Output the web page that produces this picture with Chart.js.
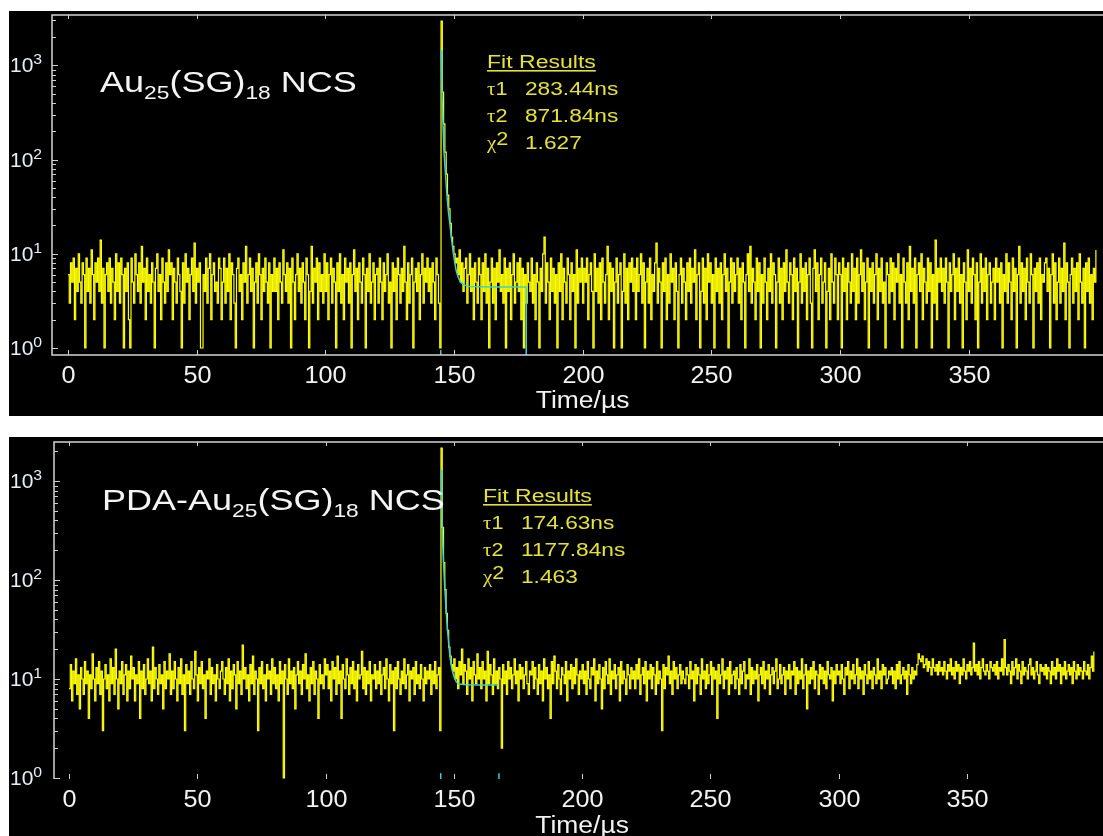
<!DOCTYPE html>
<html>
<head>
<meta charset="utf-8">
<script src="https://cdn.jsdelivr.net/npm/chart.js@4.4.1/dist/chart.umd.min.js"></script>
<style>
  body { margin: 0; background: #fff; }
  .panel { position: absolute; left: 9px; width: 1094px; background: #000; }
  #p1 { top: 11px; height: 405px; }
  #p2 { top: 437px; height: 399px; }
</style>
</head>
<body>
<div class="panel" id="p1"><canvas id="c1"></canvas></div>
<div class="panel" id="p2"><canvas id="c2"></canvas></div>
<script>
// channel width in us, counts start at t = 0
const binWidth = 0.5;
const xTicks = [0, 50, 100, 150, 200, 250, 300, 350];
const yExponents = [0, 1, 2, 3];

// Au25(SG)18 NCS decay, photon counts per channel
const countsTop = [
  6,3,8,5,9,2,7,4,10,5, 3,8,6,1,9,4,7,3,11,6, 2,8,5,9,4,14,3,7,1,6, 8,4,9,3,7,5,2,10,4,8,
  3,9,6,1,7,4,8,2,1,9, 5,3,10,6,4,8,3,12,5,7, 2,9,4,6,3,8,5,1,7,10, 4,6,2,9,5,3,8,4,11,6,
  8,2,7,5,3,9,6,4,1,8, 3,10,5,7,2,6,9,4,13,3, 7,5,8,1,1,6,4,9,3,7, 10,2,6,8,4,5,3,9,7,2,
  5,9,3,7,4,10,2,8,6,3, 1,7,9,4,6,2,8,5,12,3, 6,9,4,7,1,5,8,3,10,6, 2,7,4,9,5,3,8,1,6,4,
  9,4,7,2,8,5,3,11,6,4, 8,3,7,1,9,5,2,6,10,4, 7,3,8,5,2,9,6,1,4,12, 3,7,5,9,2,8,4,6,3,10,
  4,8,2,6,9,3,7,5,1,8, 4,10,3,6,2,9,5,7,3,8, 1,6,11,4,7,2,8,5,3,9, 6,1,7,4,10,3,5,8,2,6,
  7,3,9,5,2,8,4,6,10,3, 5,1,8,4,7,2,9,6,3,7, 4,12,5,2,8,3,6,9,1,5, 7,4,8,2,6,10,3,7,5,9,
  4,7,3,8,5,2,9,6,3,1, 2950,520,240,120,70,42,30,21,15,12, 10,8,9,6,11,5,8,4,7,9, 3,6,10,4,7,2,8,5,3,9,
  6,2,8,4,10,3,7,1,5,9, 3,7,2,8,5,11,4,6,3,9, 1,7,4,8,2,6,10,3,5,8, 4,9,2,7,1,6,3,8,5,4,
  9,3,6,2,8,5,1,7,4,10, 15,3,8,5,2,9,4,7,3,6, 1,8,4,10,2,7,5,3,9,6, 2,8,4,6,1,11,3,7,5,9,
  3,7,5,9,2,6,8,4,1,10, 4,7,3,8,2,9,5,3,6,12, 2,8,4,7,1,5,9,3,6,8, 1,4,10,3,7,2,8,5,9,4,
  7,2,9,4,6,10,3,8,1,5, 7,3,9,2,6,4,8,13,3,7, 5,1,8,4,9,2,6,3,10,5, 7,2,8,4,1,6,9,3,7,5,
  2,8,4,9,3,7,5,11,2,6, 8,1,4,9,3,7,2,10,5,8, 3,6,1,9,4,7,3,8,2,6, 10,4,7,1,5,9,3,8,4,6,
  9,3,7,2,8,5,1,6,10,4, 12,3,7,5,2,9,4,8,1,6, 3,9,5,2,7,4,10,3,8,6, 1,5,9,3,7,2,8,4,11,5,
  3,8,6,2,9,4,7,1,5,10, 3,7,4,8,2,6,9,3,1,7, 11,4,8,2,6,9,3,5,8,1, 4,7,2,10,5,3,9,6,2,8,
  6,1,9,4,7,2,8,5,3,10, 4,7,2,9,3,6,11,4,8,2, 5,9,1,7,4,8,3,6,10,2, 7,4,9,3,5,1,8,6,3,9,
  4,8,2,7,5,10,3,6,1,9, 5,3,8,2,12,4,7,3,9,1, 6,8,4,10,2,7,5,3,9,4, 8,1,6,3,14,2,7,5,9,4,
  7,3,9,5,1,8,4,6,10,2, 7,4,9,3,6,1,8,5,2,11, 4,7,3,9,6,2,8,1,5,10, 3,7,4,9,2,6,8,3,5,7,
  2,9,5,7,3,8,1,6,4,10, 3,8,5,2,9,4,7,1,6,12, 3,8,4,7,2,9,5,3,10,6, 1,7,4,8,3,9,2,6,5,8,
  9,4,7,1,6,10,3,8,2,5, 9,3,7,4,13,2,8,5,1,6, 9,3,7,4,8,2,10,5,3,7, 1,8,4,9,3,6,2,7,5,11
];

// PDA-Au25(SG)18 NCS decay
const countsBottom = [
  8,14,6,12,9,16,7,11,5,13, 10,7,15,9,12,4,11,8,18,10, 6,13,9,15,7,12,3,10,14,8, 11,6,16,9,13,7,20,10,5,12,
  9,15,7,11,14,6,12,8,17,10, 13,6,11,9,15,4,12,8,14,7, 10,16,9,12,6,21,8,13,10,7, 14,9,11,5,15,8,12,10,18,7,
  12,8,15,10,6,13,9,16,7,11, 3,14,9,12,7,15,10,8,19,11, 6,13,9,15,8,11,4,12,10,16, 7,13,9,11,6,14,10,8,12,15,
  10,7,13,9,16,6,12,8,14,11, 5,15,9,12,7,22,10,13,8,11, 6,14,9,17,7,12,10,3,13,9, 15,8,11,6,14,10,12,7,16,9,
  13,8,11,6,15,9,12,1,14,10, 7,16,9,12,8,13,5,11,15,9, 12,7,14,10,18,8,11,6,13,9, 15,7,12,10,4,14,9,11,8,16,
  11,14,8,12,6,15,10,13,7,17, 9,12,4,14,10,8,16,11,7,13, 9,15,8,12,6,14,10,11,19,8, 13,7,12,9,15,6,11,10,14,8,
  12,9,15,7,11,13,8,16,10,6, 14,9,12,3,13,8,15,10,7,12, 9,16,8,11,14,6,12,10,13,7, 15,9,11,8,14,10,6,13,9,12,
  10,14,7,12,9,15,8,11,13,3, 2150,340,150,80,46,31,21,17,14,12, 16,10,13,8,15,11,20,9,14,12, 7,16,10,13,6,15,11,9,18,10,
  13,8,15,10,12,6,19,9,14,11, 7,16,9,12,8,13,10,2,14,9, 12,7,15,10,13,8,11,16,9,12, 6,14,10,13,8,11,15,9,7,12,
  11,15,8,13,10,7,14,9,12,6, 16,10,13,8,11,4,15,9,17,12, 8,14,10,7,13,11,9,15,6,12, 10,14,8,13,9,16,11,7,12,10,
  14,9,12,7,15,10,8,13,11,16, 6,12,9,14,10,5,13,8,15,11, 9,16,7,12,10,14,8,11,13,6, 15,9,12,10,7,14,11,8,13,10,
  12,8,14,10,16,7,11,13,9,15, 6,12,10,14,8,13,11,7,15,9, 12,10,3,14,8,13,11,17,9,12, 7,15,10,13,8,11,14,9,12,10,
  9,13,11,8,15,10,12,6,14,9, 13,11,7,16,10,12,8,14,9,11, 15,7,13,10,12,4,14,9,11,16, 8,12,10,13,7,15,9,11,12,8,
  13,10,7,14,9,12,15,8,11,10, 16,7,13,9,12,10,14,6,11,13, 9,15,8,12,10,14,7,11,13,9, 12,16,8,10,14,9,11,13,7,12,
  10,14,8,12,11,15,7,13,9,12, 10,16,8,11,14,5,12,9,13,10, 15,8,12,11,7,14,10,13,9,12, 8,15,11,10,13,6,12,9,14,11,
  12,9,14,10,7,13,11,15,8,12, 10,14,9,11,16,8,13,10,12,7, 14,11,9,15,10,12,8,13,11,9, 16,10,12,8,14,11,13,9,10,12,
  11,13,9,12,8,14,10,15,9,11, 13,10,12,7,14,11,9,13,10,12, 11,14,18,16,15,17,13,14,16,12, 15,13,11,16,13,12,14,11,15,12,
  13,11,15,12,10,14,12,16,11,13, 10,15,12,14,9,13,11,16,12,10, 14,12,15,11,13,23,12,14,11,15, 10,13,16,12,11,14,12,10,15,13,
  12,14,11,15,10,13,12,16,11,25, 13,11,14,12,9,15,11,13,16,10, 14,12,9,15,11,13,12,10,14,16, 11,13,10,12,15,11,9,14,12,13,
  11,14,10,13,12,9,15,11,13,10, 16,12,14,9,13,11,15,10,12,14, 11,13,9,15,12,10,14,11,13,12, 10,15,12,11,14,10,13,17,12,19
];

// fitted curves (cyan)
const fitTopX = [145.05, 145.3, 145.5, 145.8, 146.1, 146.6, 147.2, 147.8, 148.4, 149.0, 149.6, 150.2, 150.9, 151.7, 152.6, 153.7, 156, 165, 178.1, 178.1];
const fitTopY = [1450, 600, 365, 222, 126, 80, 45, 29, 21, 15, 11, 8.5, 6.6, 5.6, 5.0, 4.7, 4.5, 4.45, 4.44, 0.5];
const fitBottomX = [145.15, 145.3, 145.5, 145.9, 146.4, 146.9, 147.4, 148.0, 148.6, 149.3, 150.1, 151.0, 152.0, 155, 160, 167.2];
const fitBottomY = [1300, 600, 300, 170, 90, 55, 35, 23, 16, 12.5, 10.5, 9.3, 8.9, 8.75, 8.7, 8.7];
// fit range marks on the time axis
const markTopX = [144.9];
const markBottomX = [144.9, 167.6];

const titleTop = ['Au', '25', '(SG)', '18', ' NCS'];
const titleBottom = ['PDA-Au', '25', '(SG)', '18', ' NCS'];
const fitNames = ['\u03c4', '\u03c4', '\u03c7'];
const fitIdx = ['1', '2', '2'];
const fitTopValues = ['283.44ns', '871.84ns', '1.627'];
const fitBottomValues = ['174.63ns', '1177.84ns', '1.463'];

const SANS = '"Liberation Sans", Arial, sans-serif';
const SERIF = '"Liberation Serif", serif';

function txt(ctx, s, x, y, size, fam, color, sx, align) {
  ctx.save();
  ctx.font = size + 'px ' + fam;
  ctx.fillStyle = color;
  ctx.textAlign = 'left';
  ctx.textBaseline = 'alphabetic';
  const w = ctx.measureText(s).width * sx;
  let left = x;
  if (align === 'center') left = x - w / 2;
  ctx.translate(left, y);
  ctx.scale(sx, 1);
  ctx.fillText(s, 0, 0);
  ctx.restore();
  return w;
}

const panelPlugin = {
  id: 'panel',
  afterDatasetsDraw(chart, args, o) {
    const { ctx, chartArea: a, scales: { x, y } } = chart;
    const W = chart.width;
    ctx.save();
    ctx.strokeStyle = '#d4d4d4';
    ctx.lineWidth = 1.5;
    ctx.beginPath();
    ctx.moveTo(W, a.top); ctx.lineTo(a.left, a.top); ctx.lineTo(a.left, a.bottom);
    if (o.bottomLine) ctx.lineTo(W, a.bottom);
    ctx.stroke();

    // log ticks on the left axis, pointing inward
    ctx.lineWidth = 1;
    ctx.strokeStyle = '#cfcfcf';
    yExponents.forEach(e => {
      for (let m = 1; m < 10; m++) {
        const v = m * Math.pow(10, e);
        if (v < y.min || v > y.max) continue;
        const py = Math.round(y.getPixelForValue(v)) + 0.5;
        ctx.beginPath();
        ctx.moveTo(a.left, py);
        ctx.lineTo(a.left + (m === 1 ? 6 : 4), py);
        ctx.stroke();
      }
      const py = y.getPixelForValue(Math.pow(10, e));
      const w = txt(ctx, '10', 1, py + 7, 20, SANS, '#e6edf4', 1.05);
      txt(ctx, String(e), 1 + w, py - 1, 15, SANS, '#e6edf4', 1.05);
    });

    xTicks.forEach(v => {
      const px = Math.round(x.getPixelForValue(v)) + 0.5;
      ctx.beginPath();
      ctx.moveTo(px, a.top); ctx.lineTo(px, a.top + 4);
      ctx.moveTo(px, a.bottom); ctx.lineTo(px, a.bottom - 5);
      ctx.stroke();
      txt(ctx, String(v), px, o.tickY, 24, SANS, '#f2f2f2', 1.05, 'center');
    });
    txt(ctx, 'Time/\u00b5s', x.getPixelForValue(200), o.axisTitleY, 23, SANS, '#f2f2f2', 1.15, 'center');

    // sample name with subscripts
    let tx = o.titleX;
    o.title.forEach((s, i) => {
      const sub = i % 2 === 1;
      tx += txt(ctx, s, tx, o.titleY + (sub ? 7 : 0), sub ? 19 : 30, SANS, '#f4f4f4', 1.2);
    });

    // fit results box
    const yc = '#e2e23a';
    const fw = txt(ctx, 'Fit Results', o.fitX, o.fitY, 18, SANS, yc, 1.28);
    ctx.fillStyle = yc;
    ctx.fillRect(o.fitX, o.fitY + 2, fw, 1.6);
    o.fitValues.forEach((s, i) => {
      const by = o.fitY + 27 * (i + 1);
      const w = txt(ctx, fitNames[i], o.fitX, by, 19, SERIF, yc, 1.1);
      txt(ctx, fitIdx[i], o.fitX + w, by - (i === 2 ? 4 : 0), 18, SANS, yc, 1.2);
      txt(ctx, s, o.fitX + 38, by, 18, SANS, yc, 1.26);
    });
    ctx.restore();
  }
};

function makeChart(id, counts, fitX, fitY, marks, markTop, axis, opts) {
  const data = counts.map((v, i) => ({ x: i * binWidth, y: v }));
  const fit = fitX.map((v, i) => ({ x: v, y: fitY[i] }));
  const markSets = marks.map(m => ({
    data: [{ x: m, y: 0.5 }, { x: m, y: markTop }],
    borderColor: '#3cd2d2', borderWidth: 1.5, pointRadius: 0, order: 0
  }));
  return new Chart(document.getElementById(id), {
    type: 'line',
    data: {
      datasets: [
        // lower order is painted last, so the fit sits on top of the counts
        { data, borderColor: '#ffff00', borderWidth: 1.2, pointRadius: 0, stepped: true, order: 2 },
        { data: fit, borderColor: '#3cd2d2', borderWidth: 1.5, pointRadius: 0, tension: 0, order: 1 }
      ].concat(markSets)
    },
    options: {
      responsive: true,
      maintainAspectRatio: false,
      animation: false,
      devicePixelRatio: 1,
      layout: { padding: { left: 0, top: axis.top, right: 3, bottom: 0 } },
      plugins: { legend: { display: false }, tooltip: { enabled: false }, panel: opts },
      scales: {
        x: {
          type: 'linear', min: axis.xmin, max: axis.xmax,
          grid: { display: false }, border: { display: false }, ticks: { display: false },
          afterFit: s => { s.height = axis.xh; }
        },
        y: {
          type: 'logarithmic', min: axis.ymin, max: axis.ymax,
          grid: { display: false }, border: { display: false }, ticks: { display: false },
          afterFit: s => { s.width = axis.yw; }
        }
      }
    },
    plugins: [panelPlugin]
  });
}

makeChart('c1', countsTop, fitTopX, fitTopY, markTopX, 0.95,
  { top: 4, xh: 61, yw: 43, xmin: -6.2, xmax: 401.1, ymin: 0.843, ymax: 3428 },
  { bottomLine: true, tickY: 372, axisTitleY: 397, title: titleTop, titleX: 91, titleY: 81,
    fitX: 478, fitY: 57, fitValues: fitTopValues });

makeChart('c2', countsBottom, fitBottomX, fitBottomY, markBottomX, 1.12,
  { top: 5, xh: 57, yw: 45, xmin: -5.85, xmax: 401.9, ymin: 0.977, ymax: 2477 },
  { bottomLine: false, tickY: 370, axisTitleY: 396, title: titleBottom, titleX: 93, titleY: 73,
    fitX: 474, fitY: 65, fitValues: fitBottomValues });
</script>
</body>
</html>
